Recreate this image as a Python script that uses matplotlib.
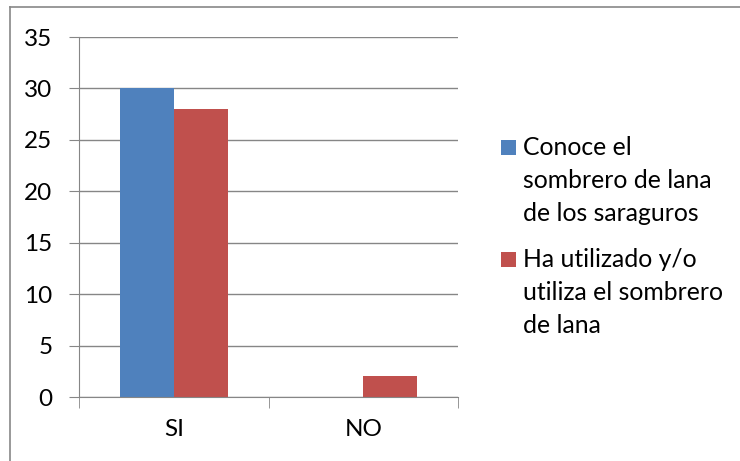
import matplotlib.pyplot as plt
from matplotlib.lines import Line2D
from matplotlib.patches import Rectangle
import numpy as np

plt.rcParams['font.family'] = ['Lato', 'DejaVu Sans']

# Data
categories = ['SI', 'NO']
conoce = [30, 0]
utiliza = [28, 2]
labels = [['Conoce el', 'sombrero de lana', 'de los saraguros'],
          ['Ha utilizado y/o', 'utiliza el sombrero', 'de lana']]

blue = '#4F81BD'
red = '#C0504D'
grid_col = '#868686'

W, H = 740, 461
fig = plt.figure(figsize=(W/100, H/100), dpi=100)
ax = fig.add_axes([79/W, 1 - 397/H, (458 - 79)/W, (397 - 37)/H])

x = np.arange(len(categories))
w = 0.284
b1 = ax.bar(x - w/2, conoce, w, color=blue)
b2 = ax.bar(x + w/2, utiliza, w, color=red)

ax.set_xlim(-0.5, 1.5)
ax.set_ylim(0, 35)
ax.set_yticks(range(0, 36, 5))
ax.yaxis.grid(True, color=grid_col, linewidth=1)
ax.set_axisbelow(True)

ax.set_xticks(x)
ax.set_xticklabels(categories)
ax.set_xticks([-0.5, 0.5, 1.5], minor=True)
ax.tick_params(axis='x', which='major', length=0, pad=16, labelsize=17.5)
ax.tick_params(axis='x', which='minor', length=8, color=grid_col, direction='out')
ax.tick_params(axis='y', length=7, color=grid_col, pad=12, labelsize=17.5)

for s in ['top', 'right']:
    ax.spines[s].set_visible(False)
for s in ['left', 'bottom']:
    ax.spines[s].set_color(grid_col)

# legend drawn by hand so the swatch sits at the first line
entry_top = [155, 267]   # baseline of first line, px from top
line_gap = 33
for bars, lines, base in zip([b1, b2], labels, entry_top):
    col = bars.patches[0].get_facecolor()
    fig.add_artist(Rectangle((501/W, 1 - base/H), 15/W, 15/H,
                             transform=fig.transFigure, facecolor=col, edgecolor='none'))
    for i, line in enumerate(lines):
        fig.text(523/W, 1 - (base + i*line_gap)/H, line, fontsize=17.8,
                 ha='left', va='baseline')

# outer chart border (top and left visible)
fig.add_artist(Line2D([10/W, 1], [1 - 7.5/H, 1 - 7.5/H], color='#888888', linewidth=1.2))
fig.add_artist(Line2D([10/W, 10/W], [0, 1 - 7.5/H], color='#888888', linewidth=1.2))

fig.savefig('out.png', dpi=100)
